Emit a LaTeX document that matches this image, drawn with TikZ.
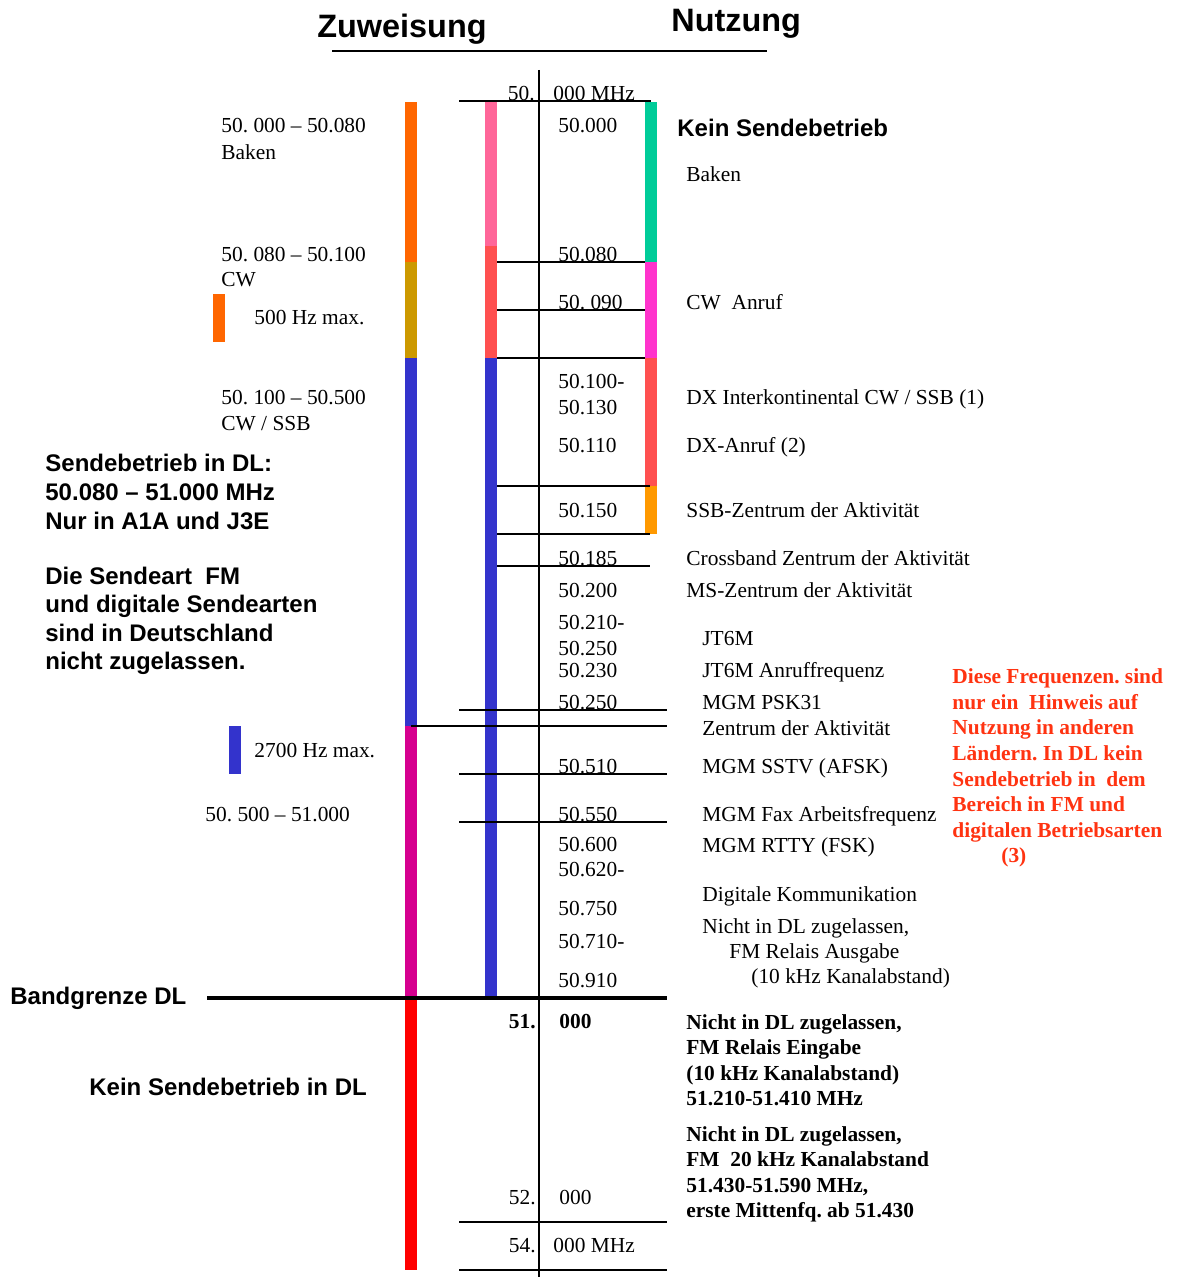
\documentclass[tikz,border=0pt]{standalone}
\usepackage{fontspec}
\setmainfont{Liberation Serif}
\setsansfont{Liberation Sans}
\frenchspacing
\definecolor{cOrange}{HTML}{FF6600}
\definecolor{cGold}{HTML}{CC9900}
\definecolor{cBlue}{HTML}{3333CC}
\definecolor{cMag}{HTML}{D6008F}
\definecolor{cRed}{HTML}{FF0000}
\definecolor{cPink}{HTML}{FF6699}
\definecolor{cSalmon}{HTML}{FF5050}
\definecolor{cGreen}{HTML}{00CC99}
\definecolor{cBMag}{HTML}{FF33CC}
\definecolor{cOrange2}{HTML}{FF9900}
\definecolor{noteRed}{HTML}{FF3311}
\begin{document}
\frenchspacing
\begin{tikzpicture}[x=0.5pt,y=-0.5pt,
 ser/.style={inner sep=0pt, anchor=base west, font=\fontsize{10.7}{12.8}\selectfont},
 serR/.style={ser, anchor=base east},
 serb/.style={ser, font=\fontsize{10.7}{12.8}\selectfont\bfseries},
 serbR/.style={serb, anchor=base east},
 sanb/.style={inner sep=0pt, anchor=base west, font=\fontsize{12}{14}\selectfont\sffamily\bfseries},
 ttl/.style={inner sep=0pt, anchor=base west, font=\fontsize{16.2}{18}\selectfont\sffamily\bfseries},
 rednote/.style={serb, text=noteRed},
 rule/.style={line width=1pt},
 thickrule/.style={line width=2pt}
]
\useasboundingbox (0,0) rectangle (1177,1277);

% ---------- titles
\node[ttl] (tZ) at (317,38) {Zuweisung};
\node[ttl] (tN) at (671,32) {Nutzung};
\coordinate (ulA) at (332,51.5);
\coordinate (ulB) at (767,51.5);
\draw[rule] (ulA) -- (ulB);

% ---------- left bar (Zuweisung)
\fill[cOrange] (405,102) rectangle (417,262);
\fill[cGold]   (405,262) rectangle (417,358);
\fill[cBlue]   (405,358) rectangle (417,726);
\fill[cMag]    (405,726) rectangle (417,998);
\fill[cRed]    (405,998) rectangle (417,1270);
% small markers
\fill[cOrange] (213,294) rectangle (225,342);
\fill[cBlue]   (229,726) rectangle (241,774);

% ---------- middle bar
\fill[cPink]   (485,102) rectangle (497,246);
\fill[cSalmon] (485,246) rectangle (497,358);
\fill[cBlue]   (485,358) rectangle (497,998);

% ---------- right bar (Nutzung)
\fill[cGreen]   (645,102) rectangle (657,262);
\fill[cBMag]    (645,262) rectangle (657,358);
\fill[cSalmon]  (645,358) rectangle (657,486);
\fill[cOrange2] (645,486) rectangle (657,533.5);

% ---------- axis and tick lines
\draw[rule] (539,70) -- (539,1277);
\draw[rule] (459,101.5) -- (651,101.5);
\draw[rule] (497,262) -- (645,262);
\draw[rule] (497,310) -- (645,310);
\draw[rule] (497,358) -- (645,358);
\draw[rule] (497,486) -- (650,486);
\draw[rule] (497,533.5) -- (650,533.5);
\draw[rule] (497,566) -- (650,566);
\draw[rule] (459,709.5) -- (667,709.5);
\draw[rule] (411,725.8) -- (667,725.8);
\draw[rule] (459,774) -- (667,774);
\draw[rule] (459,821.7) -- (667,821.7);
\draw[thickrule] (207,998) -- (667,998);
\draw[rule] (459,1222) -- (667,1222);
\draw[rule] (459,1270) -- (667,1270);

% ---------- left column texts
\node[ser] (l1) at (221,133) {50. 000 – 50.080};
\node[ser] (l2) at (221,159.5) {Baken};
\node[ser] (l3) at (221,261.5) {50. 080 – 50.100};
\node[ser] (l4) at (221,287) {CW};
\node[ser] (l5) at (254,325) {500 Hz max.};
\node[ser] (l6) at (221,405) {50. 100 – 50.500};
\node[ser] (l7) at (221,430.5) {CW / SSB};
\node[ser] (l8) at (254,757) {2700 Hz max.};
\node[ser] (l9) at (205,821) {50. 500 – 51.000};

\node[sanb] (s1) at (45,472) {Sendebetrieb in DL:};
\node[sanb] (s2) at (45,500.5) {50.080 – 51.000 MHz};
\node[sanb] (s3) at (45,529) {Nur in A1A und J3E};
\node[sanb] (s4) at (45,584) {Die Sendeart\ \ FM};
\node[sanb] (s5) at (45,612.5) {und digitale Sendearten};
\node[sanb] (s6) at (45,641) {sind in Deutschland};
\node[sanb] (s7) at (45,669.5) {nicht zugelassen.};
\node[sanb] (s8) at (10,1004) {Bandgrenze DL};
\node[sanb] (s9) at (89,1095) {Kein Sendebetrieb in DL};

% ---------- middle frequency labels
\node[serR] (m0a) at (535,101) {50.};
\node[ser]  (m0b) at (553,101) {000 MHz};
\node[ser] (m1) at (558,133) {50.000};
\node[ser] (m2) at (558,261.5) {50.080};
\node[ser] (m3) at (558,309.5) {50. 090};
\node[ser] (m4) at (558,389) {50.100-};
\node[ser] (m5) at (558,415) {50.130};
\node[ser] (m6) at (558,453) {50.110};
\node[ser] (m7) at (558,517) {50.150};
\node[ser] (m8) at (558,565.5) {50.185};
\node[ser] (m9) at (558,597) {50.200};
\node[ser] (m10) at (558,629) {50.210-};
\node[ser] (m11) at (558,655) {50.250};
\node[ser] (m12) at (558,677) {50.230};
\node[ser] (m13) at (558,709) {50.250};
\node[ser] (m14) at (558,773.5) {50.510};
\node[ser] (m15) at (558,821) {50.550};
\node[ser] (m16) at (558,851) {50.600};
\node[ser] (m17) at (558,876) {50.620-};
\node[ser] (m18) at (558,915) {50.750};
\node[ser] (m19) at (558,948.5) {50.710-};
\node[ser] (m20) at (558,987.5) {50.910};
\node[serbR] (m21a) at (536,1028.5) {51.};
\node[serb]  (m21b) at (559,1028.5) {000};
\node[serR] (m22a) at (536,1204.5) {52.};
\node[ser]  (m22b) at (559,1204.5) {000};
\node[serR] (m23a) at (536,1252.5) {54.};
\node[ser]  (m23b) at (553,1252.5) {000 MHz};

% ---------- right column texts
\node[sanb] (r0) at (677,136.5) {Kein Sendebetrieb};
\node[ser] (r1) at (686,181.5) {Baken};
\node[ser] (r2) at (686,309.5) {CW\ \ Anruf};
\node[ser] (r3) at (686,405) {DX Interkontinental CW / SSB (1)};
\node[ser] (r4) at (686,453) {DX-Anruf (2)};
\node[ser] (r5) at (686,517) {SSB-Zentrum der Aktivität};
\node[ser] (r6) at (686,565) {Crossband Zentrum der Aktivität};
\node[ser] (r7) at (686,597) {MS-Zentrum der Aktivität};
\node[ser] (r8) at (702,645) {JT6M};
\node[ser] (r9) at (702,677) {JT6M Anruffrequenz};
\node[ser] (r10) at (702,709) {MGM PSK31};
\node[ser] (r11) at (702,735) {Zentrum der Aktivität};
\node[ser] (r12) at (702,773) {MGM SSTV (AFSK)};
\node[ser] (r13) at (702,821) {MGM Fax Arbeitsfrequenz};
\node[ser] (r14) at (702,852.5) {MGM RTTY (FSK)};
\node[ser] (r15) at (702,901) {Digitale Kommunikation};
\node[ser] (r16) at (702,933) {Nicht in DL zugelassen,};
\node[ser] (r17) at (729,958.5) {FM Relais Ausgabe};
\node[ser] (r18) at (751,983.5) {(10 kHz Kanalabstand)};

\node[serb] (b1) at (686,1029) {Nicht in DL zugelassen,};
\node[serb] (b2) at (686,1054.5) {FM Relais Eingabe};
\node[serb] (b3) at (686,1080) {(10 kHz Kanalabstand)};
\node[serb] (b4) at (686,1105.5) {51.210-51.410 MHz};
\node[serb] (b5) at (686,1141) {Nicht in DL zugelassen,};
\node[serb] (b6) at (686,1166.5) {FM\ \ 20 kHz Kanalabstand};
\node[serb] (b7) at (686,1192) {51.430-51.590 MHz,};
\node[serb] (b8) at (686,1217.5) {erste Mittenfq. ab 51.430};

% ---------- red note
\node[rednote] (n1) at (952,683.5) {Diese Frequenzen. sind};
\node[rednote] (n2) at (952,709) {nur ein\ \ Hinweis auf};
\node[rednote] (n3) at (952,734.5) {Nutzung in anderen};
\node[rednote] (n4) at (952,760) {Ländern. In DL kein};
\node[rednote] (n5) at (952,786) {Sendebetrieb in\ \ dem};
\node[rednote] (n6) at (952,811.5) {Bereich in FM und};
\node[rednote] (n7) at (952,837) {digitalen Betriebsarten};
\node[rednote] (n8) at (1001,862.5) {(3)};
\end{tikzpicture}
\end{document}
